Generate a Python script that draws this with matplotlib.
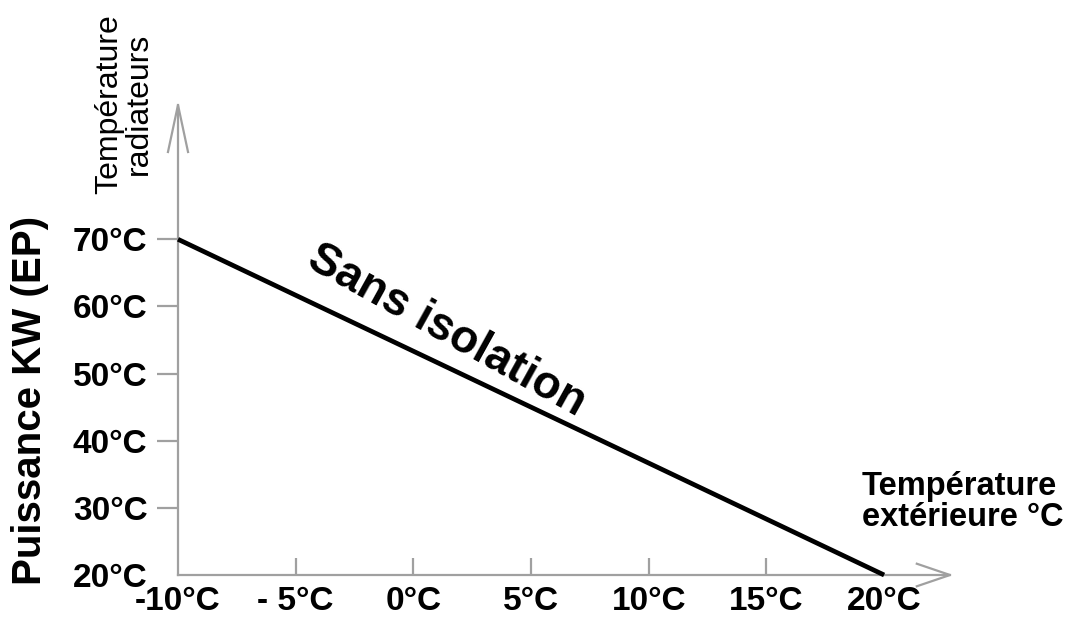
import matplotlib
matplotlib.use("Agg")
import matplotlib.pyplot as plt

# data
x_ext = [-10, 20]          # outdoor temperature (°C)
y_rad = [70, 20]           # radiator temperature (°C)
x_ticks = [-10, -5, 0, 5, 10, 15, 20]
x_labels = ["-10°C", "- 5°C", "0°C", "5°C", "10°C", "15°C", "20°C"]
y_ticks = [20, 30, 40, 50, 60, 70]
y_labels = ["20°C", "30°C", "40°C", "50°C", "60°C", "70°C"]

AXIS_GREY = "#a0a0a0"
FONT = "Liberation Sans"

plt.rcParams.update({
    "font.family": FONT,
    "font.size": 24,
})

fig = plt.figure(figsize=(10.71, 6.19), dpi=100)
ax = fig.add_axes([178 / 1071, 44 / 619, 772 / 1071, 470 / 619])
ax.set_xlim(-10, 22.8)
ax.set_ylim(20, 90)

for s in ("top", "right"):
    ax.spines[s].set_visible(False)
for s in ("left", "bottom"):
    ax.spines[s].set_color(AXIS_GREY)
    ax.spines[s].set_linewidth(1.6)

# open chevron arrow heads on the axes
ax.plot([-0.013, 0, 0.013], [0.90, 1.0, 0.90], transform=ax.transAxes,
        color=AXIS_GREY, lw=1.6, clip_on=False)
ax.plot([0.957, 1.0, 0.957], [0.024, 0, -0.024], transform=ax.transAxes,
        color=AXIS_GREY, lw=1.6, clip_on=False)

ax.plot(x_ext, y_rad, color="black", lw=3.4, solid_capstyle="butt",
        clip_on=False, zorder=3)

ax.set_xticks(x_ticks)
ax.set_xticklabels(x_labels, fontweight="bold")
ax.set_yticks(y_ticks)
ax.set_yticklabels(y_labels, fontweight="bold")
ax.tick_params(axis="x", direction="in", length=12, width=1.6,
               color=AXIS_GREY, pad=8)
ax.tick_params(axis="y", direction="out", length=15, width=1.6,
               color=AXIS_GREY, pad=7)
ax.xaxis.get_major_ticks()[0].tick1line.set_visible(False)
ax.xaxis.get_major_ticks()[-1].tick1line.set_visible(False)
ax.yaxis.get_major_ticks()[0].tick1line.set_visible(False)

ax.text(1.4, 56.3, "Sans isolation", fontsize=33, fontweight="bold",
        rotation=-29, rotation_mode="anchor", ha="center", va="center")

fig.text(30 / 1071, 1 - 400 / 619, "Puissance KW (EP)", fontsize=29,
         fontweight="bold", rotation=90, ha="center", va="center")
fig.text(124 / 1071, 1 - 104 / 619, "Température\nradiateurs", fontsize=23,
         rotation=90, ha="center", va="center", multialignment="center",
         linespacing=1.0)
fig.text(862 / 1071, 1 - 471 / 619, "Température\nextérieure °C",
         fontsize=23.5, fontweight="bold", ha="left", va="top",
         linespacing=1.0)

fig.savefig("out.png", dpi=100)
